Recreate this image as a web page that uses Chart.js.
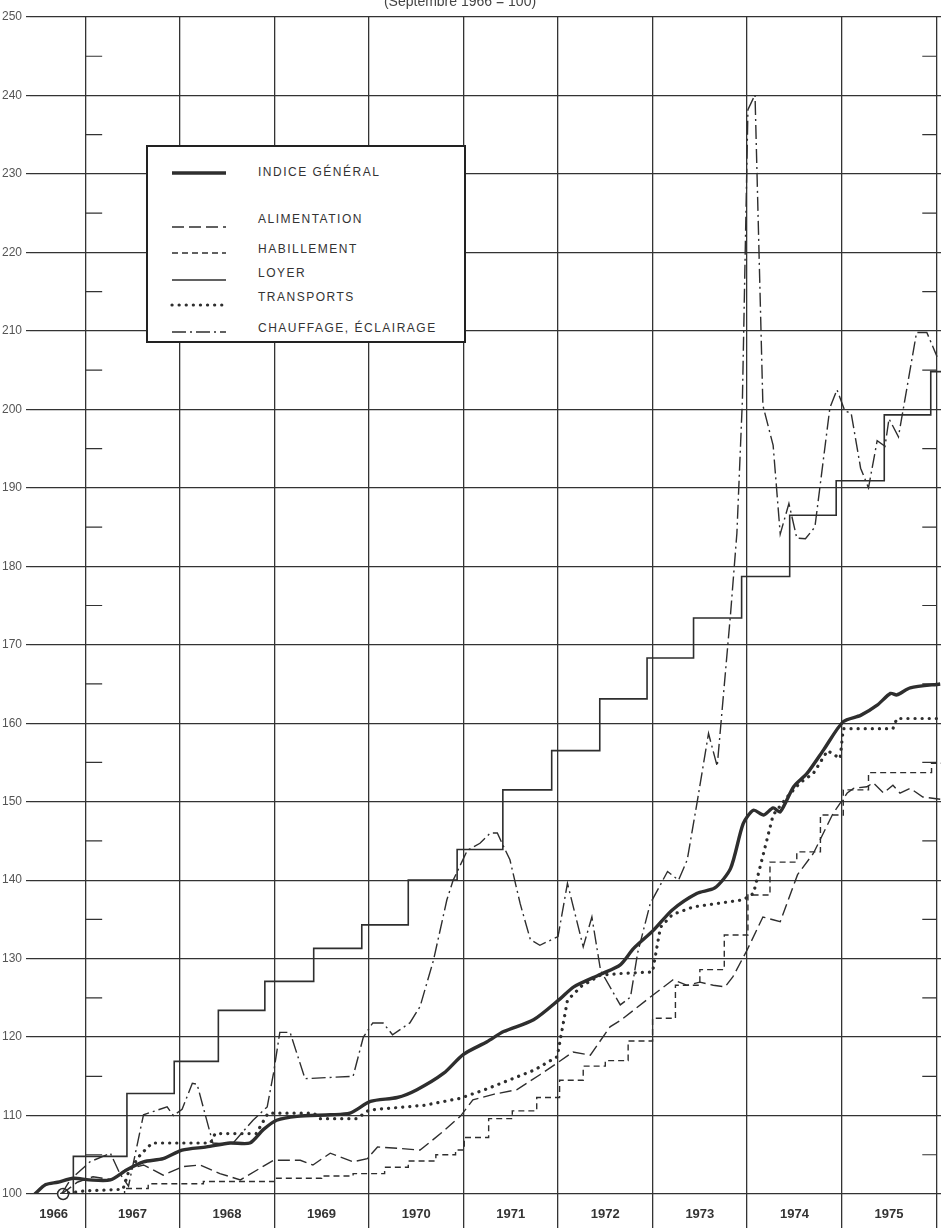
<!DOCTYPE html>
<html>
<head>
<meta charset="utf-8">
<script src="https://cdn.jsdelivr.net/npm/chart.js@4.4.1/dist/chart.umd.min.js"></script>
<style>
  body { margin: 0; background: #fff; }
  #wrap { position: relative; width: 941px; height: 1228px; overflow: hidden; background: #fff; }
  #sub { position: absolute; top: -7px; left: 0; width: 920px; text-align: center;
         font: 14px "Liberation Sans", Arial, sans-serif; color: #444; }
  #legend { position: absolute; left: 146px; top: 145px; width: 316px; height: 194px;
            border: 2px solid #222; background: #fff; }
  #legend .txt { position: absolute; left: 110px; height: 14px; line-height: 14px;
                 font: 12px "Liberation Sans", Arial, sans-serif; letter-spacing: 1.5px; color: #333; white-space: nowrap; }
  #legend svg { position: absolute; left: 22px; }
</style>
</head>
<body>
<div id="wrap">
  <canvas id="myChart" width="941" height="1228"></canvas>
  <div id="sub">(Septembre 1966 = 100)</div>
  <div id="legend"></div>
</div>
<script>
// x values are months counted from January 1966 (12 = January 1967)
var yearLines = [12, 24, 36, 48, 60, 72, 84, 96, 108, 120];
var yearCenters = [8, 18, 30, 42, 54, 66, 78, 90, 102, 114];
var yearLabels = ['1966', '1967', '1968', '1969', '1970', '1971', '1972', '1973', '1974', '1975'];
var yTicks = [100, 110, 120, 130, 140, 150, 160, 170, 180, 190, 200, 210, 220, 230, 240, 250];

var indiceMonths = [5.6, 7.0, 8.5, 10.5, 12.5, 15.2, 17.3, 19.4, 21.9, 24.3, 27.4, 30.4, 32.9, 34.6, 36.3, 38.9, 43.1, 45.6, 48.2, 51.6, 54.1, 57.5, 60.0, 63.0, 65.1, 68.9, 72.3, 74.0, 77.4, 79.9, 81.6, 84.1, 86.5, 89.6, 91.9, 93.9, 95.5, 96.8, 98.1, 99.3, 100.2, 101.9, 103.6, 105.7, 108.2, 110.4, 112.5, 114.2, 115.0, 116.7, 120.5];
var indiceValues = [100.0, 101.2, 101.5, 102.0, 101.8, 101.8, 103.1, 104.1, 104.5, 105.6, 106.0, 106.5, 106.5, 108.2, 109.4, 109.9, 110.1, 110.3, 111.8, 112.3, 113.3, 115.4, 117.8, 119.4, 120.7, 122.2, 124.9, 126.4, 128.0, 129.2, 131.3, 133.6, 136.2, 138.3, 139.0, 141.5, 147.2, 148.9, 148.3, 149.2, 148.7, 151.9, 153.6, 156.6, 160.2, 161.0, 162.3, 163.8, 163.6, 164.5, 165.0];

var alimMonths = [9, 11, 13, 15.5, 17, 19.4, 21.9, 24.4, 26.6, 29.1, 31.7, 35.9, 39.3, 40.9, 43.1, 46.0, 47.8, 49.1, 52.0, 54.5, 57.1, 59.6, 61.2, 63.8, 66.8, 69.7, 71.9, 73.9, 76.1, 78.6, 79.9, 84.1, 86.6, 88.4, 90.0, 91.7, 93.2, 94.2, 96.0, 98.0, 100.2, 102.4, 104.4, 106.9, 108.7, 109.5, 111.2, 112.0, 113.3, 114.5, 115.4, 116.7, 118.3, 120.5];
var alimValues = [100, 101.5, 102.2, 101.8, 103.0, 103.7, 102.4, 103.5, 103.7, 102.6, 101.8, 104.3, 104.3, 103.7, 105.2, 104.1, 104.5, 106.0, 105.8, 105.6, 107.7, 109.9, 112.0, 112.7, 113.3, 115.2, 116.7, 118.1, 117.7, 121.3, 122.1, 125.4, 127.3, 126.6, 127.0, 126.6, 126.4, 127.7, 131.1, 135.3, 134.7, 140.7, 143.4, 148.5, 151.1, 151.7, 151.9, 152.4, 151.1, 152.1, 151.1, 151.7, 150.6, 150.3];

var habilMonths = [9, 17, 20, 27, 36, 42, 46, 50, 53, 56.5, 59, 60.1, 63.2, 66.2, 69.3, 72.2, 75.2, 78.0, 80.9, 84.0, 86.9, 90.0, 93.1, 96.1, 98.9, 102.3, 105.3, 108.2, 111.4, 119.4, 120.6];
var habilValues = [100, 100.7, 101.3, 101.6, 102.0, 102.3, 102.6, 103.4, 104.2, 105.0, 105.6, 107.2, 109.6, 110.6, 112.3, 114.5, 116.3, 117.0, 119.5, 122.4, 126.6, 128.6, 133.0, 138.1, 142.3, 143.6, 148.3, 151.5, 153.7, 154.9, 154.9];

var loyerMonths = [9, 10.5, 17.3, 23.3, 28.9, 34.8, 41.0, 47.1, 53.0, 59.2, 65.0, 71.2, 77.3, 83.3, 89.2, 95.3, 101.4, 107.3, 113.4, 119.3, 120.6];
var loyerValues = [100, 104.8, 112.8, 116.9, 123.4, 127.1, 131.3, 134.3, 140.0, 143.9, 151.5, 156.5, 163.1, 168.3, 173.4, 178.7, 186.5, 190.9, 199.3, 204.8, 204.8];

var transMonths = [9, 12, 16.8, 17.5, 19, 20.5, 27.9, 28.5, 33.7, 35.2, 41, 41.8, 46.5, 48, 55, 59.6, 63, 67, 69, 71.9, 73.2, 75, 77.4, 80, 84, 85, 86.5, 89.2, 95.5, 96.8, 99.3, 101, 102.7, 104.4, 106.2, 107.8, 108.2, 114.5, 115, 120.5];
var transValues = [100, 100.4, 100.6, 102.8, 105, 106.5, 106.5, 107.7, 107.7, 110.3, 110.3, 109.6, 109.6, 110.7, 111.3, 112.2, 113.4, 115, 115.8, 117.5, 124.7, 126.5, 127.9, 128.1, 128.3, 134.0, 135.6, 136.6, 137.5, 138.3, 148.3, 150.5, 152.4, 153.6, 156.5, 155.5, 159.3, 159.3, 160.6, 160.6];

var chaufMonths = [9, 10.1, 12.6, 15.2, 16.4, 17.5, 19.4, 22.4, 23.2, 24.3, 25.6, 26.2, 28.2, 30.6, 33.3, 35.1, 35.9, 36.7, 38.0, 39.9, 46.0, 47.3, 48.5, 49.8, 51.0, 53.2, 54.5, 56.2, 57.9, 58.7, 60.5, 62.1, 63.4, 64.3, 64.9, 65.9, 67.2, 68.5, 69.7, 72.0, 73.2, 75.2, 76.3, 77.4, 79.9, 81.2, 82.1, 83.7, 85.9, 87.3, 88.4, 89.7, 91.1, 92.2, 93.9, 94.7, 95.4, 96.1, 97.0, 98.0, 99.3, 100.2, 101.3, 102.3, 103.4, 104.6, 106.5, 107.4, 108.4, 109.2, 110.4, 111.4, 112.5, 113.5, 114.0, 115.2, 117.5, 118.8, 120.1];
var chaufValues = [100, 101.8, 104.1, 105.2, 102.6, 101.0, 110.1, 111.1, 110.0, 110.8, 114.1, 114.0, 106.5, 106.3, 109.4, 111.1, 115.4, 120.6, 120.6, 114.7, 115.0, 120.0, 121.8, 121.8, 120.3, 121.8, 123.9, 129.8, 137.5, 140.0, 143.8, 144.7, 146.0, 146.0, 144.7, 142.6, 137.0, 132.4, 131.7, 132.8, 139.6, 131.5, 135.3, 128.5, 124.1, 125.1, 130.7, 137.0, 141.1, 140.0, 142.6, 150.2, 158.7, 154.5, 174.0, 184.2, 201.2, 238.2, 240.1, 200.5, 195.4, 184.1, 188.0, 183.6, 183.5, 185.0, 200.2, 202.5, 199.8, 199.5, 192.5, 190.0, 196.0, 195.3, 198.8, 196.5, 209.8, 209.8, 206.7];

// base point, septembre 1966 = 100
var baseMonths = [9.2];
var baseValues = [100];

function pts(months, values) {
  return months.map(function (m, i) { return { x: m, y: values[i] }; });
}

Chart.defaults.font.family = "'Liberation Sans', Arial, sans-serif";

var ink = '#2e2e2e';

// short ticks at the half-decades, along the 1967 line and the right edge
var minorTicks = {
  id: 'minorTicks',
  beforeDatasetsDraw: function (chart) {
    var ctx = chart.ctx, x = chart.scales.x, y = chart.scales.y;
    var xl = x.getPixelForValue(yearLines[0]);
    var xr = x.getPixelForValue(yearLines[yearLines.length - 1]);
    ctx.save();
    ctx.strokeStyle = '#333';
    ctx.lineWidth = 1.2;
    for (var v = 105; v < 250; v += 10) {
      var py = y.getPixelForValue(v);
      ctx.beginPath();
      ctx.moveTo(xl, py); ctx.lineTo(xl + 17, py);
      ctx.moveTo(xr - 14, py); ctx.lineTo(xr, py);
      ctx.stroke();
    }
    ctx.restore();
  }
};

var ctx = document.getElementById('myChart');

var myChart = new Chart(ctx, {
  type: 'line',
  data: {
    datasets: [
      { label: 'INDICE GÉNÉRAL', data: pts(indiceMonths, indiceValues), borderColor: ink, borderWidth: 3.4, tension: 0.25 },
      { label: 'ALIMENTATION', data: pts(alimMonths, alimValues), borderColor: ink, borderWidth: 1.4, borderDash: [12, 5] },
      { label: 'HABILLEMENT', data: pts(habilMonths, habilValues), borderColor: ink, borderWidth: 1.4, borderDash: [6, 4], stepped: 'before' },
      { label: 'LOYER', data: pts(loyerMonths, loyerValues), borderColor: ink, borderWidth: 1.6, stepped: 'before' },
      { label: 'TRANSPORTS', data: pts(transMonths, transValues), borderColor: ink, borderWidth: 3.2, borderDash: [0.1, 7], borderCapStyle: 'round' },
      { label: 'CHAUFFAGE, ÉCLAIRAGE', data: pts(chaufMonths, chaufValues), borderColor: ink, borderWidth: 1.4, borderDash: [14, 4, 2, 4] },
      { label: 'base', data: pts(baseMonths, baseValues), showLine: false, pointRadius: 5.5,
        pointBackgroundColor: '#fff', pointBorderColor: ink, pointBorderWidth: 1.5, clip: false }
    ]
  },
  options: {
    responsive: false,
    animation: false,
    devicePixelRatio: 1,
    elements: { point: { radius: 0 } },
    layout: { autoPadding: false, padding: { top: 17, right: 0, bottom: 0, left: 0 } },
    plugins: { legend: { display: false }, tooltip: { enabled: false } },
    scales: {
      x: {
        type: 'linear', min: 5.0, max: 120.6,
        afterBuildTicks: function (s) {
          s.ticks = yearLines.concat(yearCenters).sort(function (a, b) { return a - b; })
            .map(function (v) { return { value: v }; });
        },
        afterFit: function (s) { s.height = 34; },
        ticks: {
          autoSkip: false, maxRotation: 0, padding: -21, color: '#333',
          font: { size: 13, weight: 'bold' },
          callback: function (v) { var i = yearCenters.indexOf(v); return i < 0 ? '' : yearLabels[i]; }
        },
        grid: {
          color: function (c) { return c.tick && yearLines.indexOf(c.tick.value) >= 0 ? '#333' : 'rgba(0,0,0,0)'; },
          lineWidth: 1.3, tickLength: 34
        },
        border: { display: false }
      },
      y: {
        min: 100, max: 250,
        afterBuildTicks: function (s) { s.ticks = yTicks.map(function (v) { return { value: v }; }); },
        afterFit: function (s) { s.width = 30; },
        ticks: { padding: 4, color: '#555', font: { size: 12 } },
        grid: { color: '#333', lineWidth: 1.2, tickLength: 4 },
        border: { display: false }
      }
    }
  },
  plugins: [minorTicks]
});

// legend box drawn in HTML from the dataset styles
var legendRows = [
  { text: 25, line: 26 }, { text: 72, line: 80 }, { text: 102, line: 106 },
  { text: 126, line: 133 }, { text: 150, line: 158 }, { text: 181, line: 185 }
];
var box = document.getElementById('legend');
myChart.data.datasets.slice(0, 6).forEach(function (ds, i) {
  var r = legendRows[i];
  var t = document.createElement('div');
  t.className = 'txt';
  t.style.top = (r.text - 7) + 'px';
  t.textContent = ds.label;
  box.appendChild(t);
  var dash = ds.borderDash ? ds.borderDash.join(' ') : 'none';
  var cap = ds.borderCapStyle === 'round' ? 'round' : 'butt';
  var svg = '<svg width="58" height="8" style="top:' + (r.line - 4) + 'px">' +
    '<line x1="2" y1="4" x2="56" y2="4" stroke="' + ink + '" stroke-width="' + ds.borderWidth +
    '" stroke-dasharray="' + dash + '" stroke-linecap="' + cap + '"/></svg>';
  box.insertAdjacentHTML('beforeend', svg);
});
</script>
</body>
</html>
